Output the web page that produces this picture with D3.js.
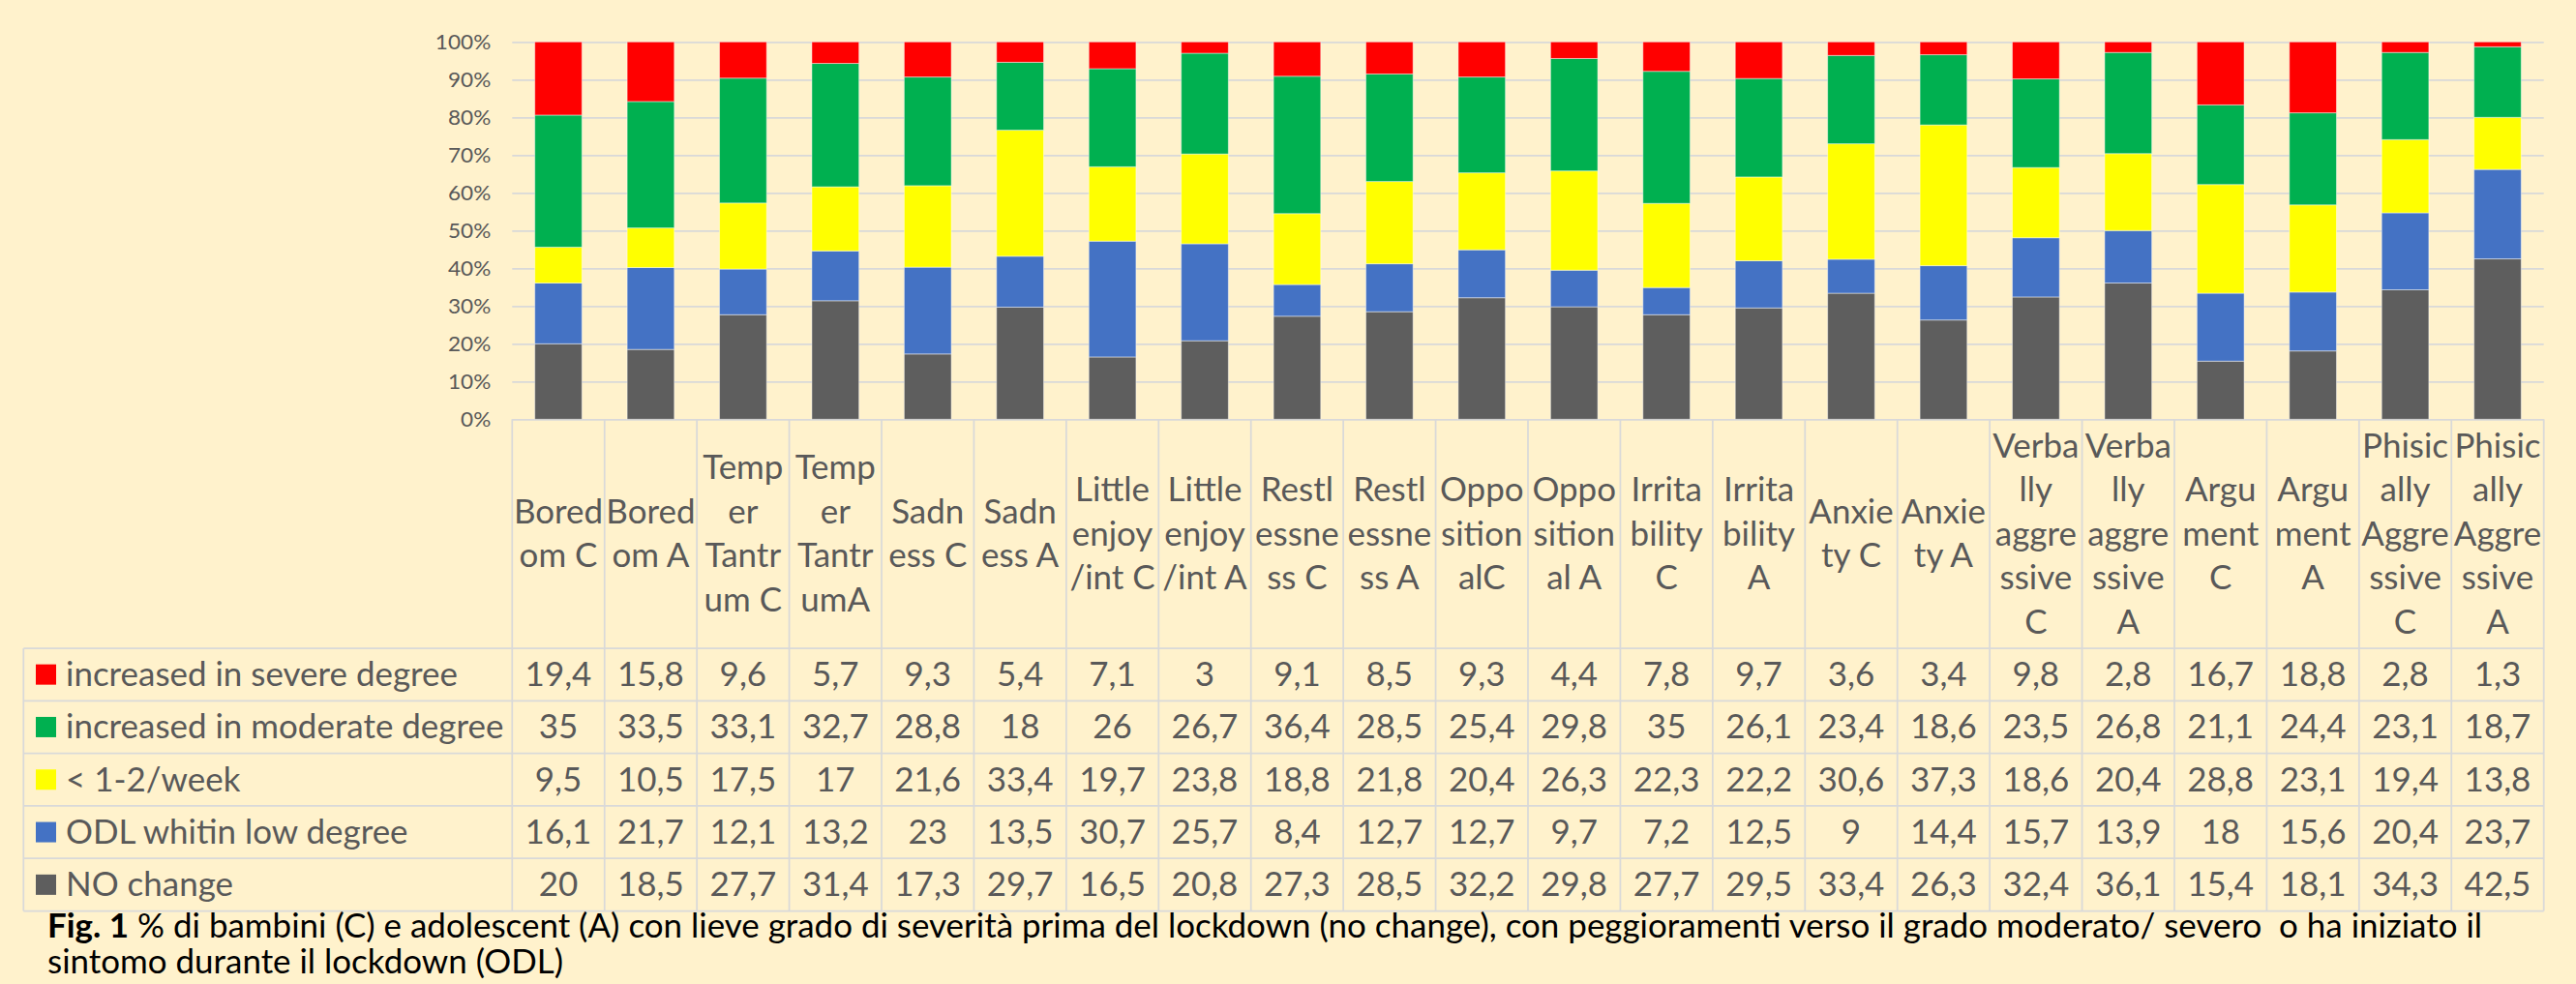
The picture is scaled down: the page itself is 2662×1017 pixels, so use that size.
<!DOCTYPE html>
<html>
<head>
<meta charset="utf-8">
<script src="https://cdn.jsdelivr.net/npm/d3@7"></script>
<style>
  body { margin: 0; background: #FFF2CC; }
  svg { display: block; font-family: Lato, "Open Sans", sans-serif; }
</style>
</head>
<body>
<script>
// Categories, as wrapped in the table header
const categories = [
  "Boredom C", "Boredom A", "Temper Tantrum C", "Temper TantrumA", "Sadness C", "Sadness A",
  "Little enjoy/int C", "Little enjoy/int A", "Restlessness C", "Restlessness A",
  "OppositionalC", "Oppositional A", "Irritability C", "Irritability A", "Anxiety C", "Anxiety A",
  "Verbally aggressive C", "Verbally aggressive A", "Argument C", "Argument A",
  "Phisically Aggressive C", "Phisically Aggressive A"
];
const categoryLines = [
  ["Bored", "om C"], ["Bored", "om A"], ["Temp", "er", "Tantr", "um C"], ["Temp", "er", "Tantr", "umA"],
  ["Sadn", "ess C"], ["Sadn", "ess A"], ["Little", "enjoy", "/int C"], ["Little", "enjoy", "/int A"],
  ["Restl", "essne", "ss C"], ["Restl", "essne", "ss A"], ["Oppo", "sition", "alC"], ["Oppo", "sition", "al A"],
  ["Irrita", "bility", "C"], ["Irrita", "bility", "A"], ["Anxie", "ty C"], ["Anxie", "ty A"],
  ["Verba", "lly", "aggre", "ssive", "C"], ["Verba", "lly", "aggre", "ssive", "A"],
  ["Argu", "ment", "C"], ["Argu", "ment", "A"],
  ["Phisic", "ally", "Aggre", "ssive", "C"], ["Phisic", "ally", "Aggre", "ssive", "A"]
];

// Series values (%)
const severe   = [19.4, 15.8, 9.6, 5.7, 9.3, 5.4, 7.1, 3, 9.1, 8.5, 9.3, 4.4, 7.8, 9.7, 3.6, 3.4, 9.8, 2.8, 16.7, 18.8, 2.8, 1.3];
const moderate = [35, 33.5, 33.1, 32.7, 28.8, 18, 26, 26.7, 36.4, 28.5, 25.4, 29.8, 35, 26.1, 23.4, 18.6, 23.5, 26.8, 21.1, 24.4, 23.1, 18.7];
const weekly   = [9.5, 10.5, 17.5, 17, 21.6, 33.4, 19.7, 23.8, 18.8, 21.8, 20.4, 26.3, 22.3, 22.2, 30.6, 37.3, 18.6, 20.4, 28.8, 23.1, 19.4, 13.8];
const odl      = [16.1, 21.7, 12.1, 13.2, 23, 13.5, 30.7, 25.7, 8.4, 12.7, 12.7, 9.7, 7.2, 12.5, 9, 14.4, 15.7, 13.9, 18, 15.6, 20.4, 23.7];
const noChange = [20, 18.5, 27.7, 31.4, 17.3, 29.7, 16.5, 20.8, 27.3, 28.5, 32.2, 29.8, 27.7, 29.5, 33.4, 26.3, 32.4, 36.1, 15.4, 18.1, 34.3, 42.5];

const seriesNames = ["increased in severe degree", "increased in moderate degree", "< 1-2/week", "ODL whitin low degree", "NO change"];
const seriesValues = [severe, moderate, weekly, odl, noChange];
const seriesColors = ["#FF0000", "#00B050", "#FFFF00", "#4472C4", "#5E5E5E"];
const yTicks = [0, 0.1, 0.2, 0.3, 0.4, 0.5, 0.6, 0.7, 0.8, 0.9, 1];

const captionBold = "Fig. 1";
const captionLine1 = " % di bambini (C) e adolescent (A) con lieve grado di severità prima del lockdown (no change), con peggioramenti verso il grado moderato/ severo  o ha iniziato il";
const captionLine2 = "sintomo durante il lockdown (ODL)";

// Layout
const width = 2662, height = 1017;
const plot = { left: 529.3, right: 2628.7, top: 43.3, bottom: 433.3 };
const table = { left: 24.3, headerBottom: 670, rowH: 54.3 };
const textColor = "#595959";
const lineColor = "#D9D9D9";
const fontSize = 34;

const svg = d3.select("body").append("svg")
  .attr("width", width)
  .attr("height", height);

// Scales
const col = d3.scaleBand().domain(categories).range([plot.left, plot.right]);
const x = d3.scaleBand().domain(categories).range([plot.left, plot.right])
  .paddingInner(0.49).paddingOuter(0.245);
const y = d3.scaleLinear().domain([0, 1]).range([plot.bottom, plot.top]);

// Calibrate horizontal squeeze so Lato runs as narrow as the original Calibri
const probe = svg.append("text").attr("font-size", fontSize).text(seriesNames[0]);
const k = 405 / probe.node().getComputedTextLength();
probe.remove();

function squeeze(sel) {
  sel.each(function () {
    const w = this.getComputedTextLength();
    d3.select(this).attr("textLength", w * k).attr("lengthAdjust", "spacingAndGlyphs");
  });
}

// Y axis with gridlines
const yAxis = svg.append("g")
  .attr("transform", `translate(${plot.left},0)`)
  .call(d3.axisLeft(y).tickValues(yTicks).tickFormat(d3.format(".0%"))
    .tickSizeInner(-(plot.right - plot.left)).tickSizeOuter(0).tickPadding(22));
yAxis.select(".domain").remove();
yAxis.selectAll(".tick line").attr("stroke", lineColor).attr("stroke-width", 1.75);
yAxis.selectAll(".tick text")
  .attr("fill", textColor)
  .attr("font-size", 22)
  .attr("font-family", "Lato, sans-serif")
  .call(squeeze);

// Stacked bars (100%)
const rows = categories.map((c, i) => {
  const r = { category: c };
  seriesNames.forEach((s, j) => { r[s] = seriesValues[j][i]; });
  return r;
});
const stackOrder = seriesNames.slice().reverse();
const stacked = d3.stack().keys(stackOrder).offset(d3.stackOffsetExpand)(rows);
const color = d3.scaleOrdinal().domain(seriesNames).range(seriesColors);

svg.append("g")
  .selectAll("g")
  .data(stacked)
  .join("g")
  .attr("fill", (d) => color(d.key))
  .selectAll("rect")
  .data((d) => d)
  .join("rect")
  .attr("x", (d) => x(d.data.category))
  .attr("width", x.bandwidth())
  .attr("y", (d) => y(d[1]))
  .attr("height", (d) => y(d[0]) - y(d[1]))
  .attr("stroke", "#fff")
  .attr("stroke-opacity", 0.45)
  .attr("stroke-width", 1);

// Data table
const tbl = svg.append("g");
const tableBottom = table.headerBottom + table.rowH * seriesNames.length;

// horizontal lines
tbl.selectAll("line.h")
  .data(d3.range(seriesNames.length + 1))
  .join("line")
  .attr("x1", table.left)
  .attr("x2", plot.right)
  .attr("y1", (i) => table.headerBottom + i * table.rowH)
  .attr("y2", (i) => table.headerBottom + i * table.rowH)
  .attr("stroke", lineColor)
  .attr("stroke-width", 1.75);

// vertical lines
tbl.selectAll("line.v")
  .data(categories.concat([null]))
  .join("line")
  .attr("x1", (c) => (c ? col(c) : plot.right))
  .attr("x2", (c) => (c ? col(c) : plot.right))
  .attr("y1", plot.bottom)
  .attr("y2", tableBottom)
  .attr("stroke", lineColor)
  .attr("stroke-width", 1.75);
tbl.append("line")
  .attr("x1", table.left).attr("x2", table.left)
  .attr("y1", table.headerBottom).attr("y2", tableBottom)
  .attr("stroke", lineColor).attr("stroke-width", 1.75);

// header labels
const lineH = 45.5;
const headerMid = (plot.bottom + table.headerBottom) / 2;
categories.forEach((c, i) => {
  const lines = categoryLines[i];
  tbl.selectAll(null)
    .data(lines)
    .join("text")
    .attr("x", col(c) + col.bandwidth() / 2)
    .attr("y", (d, j) => headerMid + (j - (lines.length - 1) / 2) * lineH)
    .attr("dy", "0.35em")
    .attr("text-anchor", "middle")
    .attr("font-size", fontSize)
    .attr("fill", textColor)
    .text((d) => d)
    .call(squeeze);
});

// legend column + values
seriesNames.forEach((s, j) => {
  const cy = table.headerBottom + (j + 0.5) * table.rowH;
  tbl.append("rect")
    .attr("x", 37).attr("y", cy - 10.5)
    .attr("width", 21).attr("height", 21)
    .attr("fill", seriesColors[j]);
  tbl.append("text")
    .attr("x", 68).attr("y", cy).attr("dy", "0.35em")
    .attr("font-size", fontSize)
    .attr("fill", textColor)
    .text(s)
    .call(squeeze);
  tbl.selectAll(null)
    .data(seriesValues[j])
    .join("text")
    .attr("x", (v, i) => col(categories[i]) + col.bandwidth() / 2)
    .attr("y", cy).attr("dy", "0.35em")
    .attr("text-anchor", "middle")
    .attr("font-size", fontSize)
    .attr("fill", textColor)
    .text((v) => String(v).replace(".", ","))
    .call(squeeze);
});

// Caption
const cap = svg.append("text")
  .attr("x", 49).attr("y", 969)
  .attr("font-size", fontSize)
  .attr("fill", "#000")
  .style("white-space", "pre");
cap.append("tspan").attr("font-weight", "bold").text(captionBold);
cap.append("tspan").text(captionLine1);
cap.call(squeeze);

svg.append("text")
  .attr("x", 49).attr("y", 1006)
  .attr("font-size", fontSize)
  .attr("fill", "#000")
  .text(captionLine2)
  .call(squeeze);
</script>
</body>
</html>
